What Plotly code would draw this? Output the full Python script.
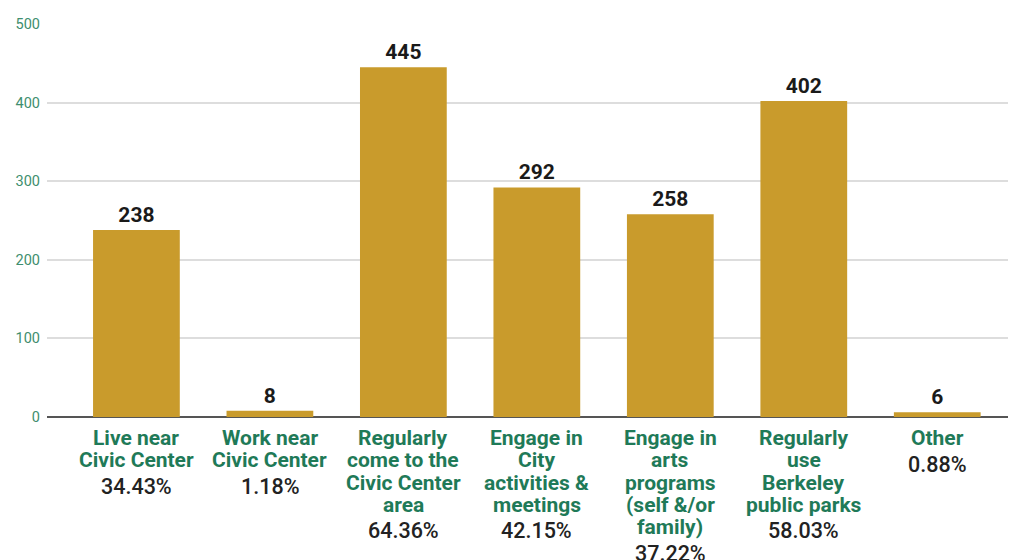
import plotly.graph_objects as go

categories = [
    "Live near<br>Civic Center",
    "Work near<br>Civic Center",
    "Regularly<br>come to the<br>Civic Center<br>area",
    "Engage in<br>City<br>activities &<br>meetings",
    "Engage in<br>arts<br>programs<br>(self &/or<br>family)",
    "Regularly<br>use<br>Berkeley<br>public parks",
    "Other",
]
counts = [238, 8, 445, 292, 258, 402, 6]
percents = ["34.43%", "1.18%", "64.36%", "42.15%", "37.22%", "58.03%", "0.88%"]
y_ticks = [0, 100, 200, 300, 400, 500]

BAR = "#C99B2C"
GREEN = "#1F7A58"
TICKGREEN = "#3E8E6E"
FONT = "Roboto"

xs = list(range(len(categories)))

fig = go.Figure()
fig.add_trace(go.Bar(
    x=xs, y=counts, width=0.65,
    marker=dict(color=BAR, line=dict(width=0)),
    text=[str(c) for c in counts], textposition="outside",
    textfont=dict(family=FONT, size=21, color="#1a1a1a", weight=700),
    cliponaxis=False,
))

LINE_H = 22.3
FIRST = 21  # px from baseline to first line centre
for i, (lab, pct) in enumerate(zip(categories, percents)):
    lines = lab.split("<br>")
    for k, ln in enumerate(lines):
        fig.add_annotation(
            x=i, y=0, xref="x", yref="y", yanchor="middle", xanchor="center",
            yshift=-(FIRST + k * LINE_H), text=ln, showarrow=False,
            font=dict(family=FONT, size=21, color=GREEN, weight=700),
        )
    fig.add_annotation(
        x=i, y=0, xref="x", yref="y", yanchor="middle", xanchor="center",
        yshift=-(FIRST + (len(lines) - 1) * LINE_H + 26), text=pct, showarrow=False,
        font=dict(family=FONT, size=21.5, color="#222222", weight=500),
    )

fig.update_layout(
    width=1008, height=552,
    margin=dict(l=37, r=8, t=9, b=143),
    plot_bgcolor="white", paper_bgcolor="white",
    showlegend=False,
    font=dict(family=FONT),
    xaxis=dict(range=[-0.67, 6.53], showticklabels=False, showgrid=False,
               zeroline=False, showline=False, ticks=""),
    yaxis=dict(range=[0, 500], tickvals=y_ticks, showgrid=True,
               gridcolor="#DDDDDD", gridwidth=1.5, zeroline=True,
               zerolinecolor="#555555", zerolinewidth=1.5,
               tickfont=dict(family=FONT, size=14.5, color=TICKGREEN),
               ticklabelstandoff=6, showline=False, ticks=""),
)

fig.write_html("out.html")
